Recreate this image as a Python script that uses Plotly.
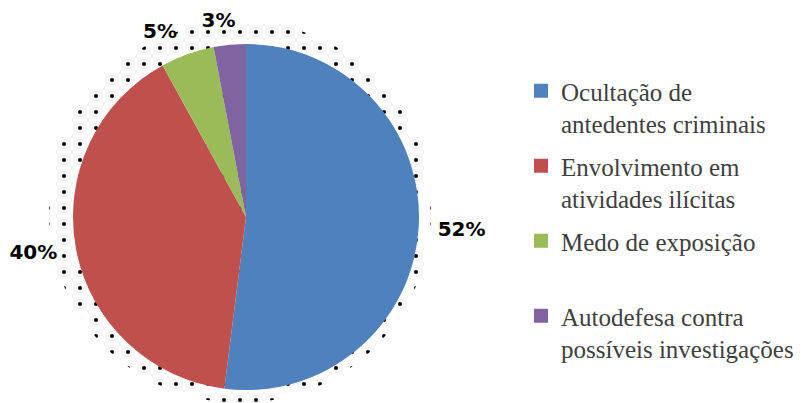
import plotly.graph_objects as go

categories = ["Ocultação de<br>antedentes criminais",
              "Envolvimento em<br>atividades ilícitas",
              "Medo de exposição<br> ",
              "Autodefesa contra<br>possíveis investigações"]
values = [52, 40, 5, 3]
colors = ["#4F81BD", "#C0504D", "#9BBB59", "#8064A2"]

# the page body adds an 8px margin, so the figure is 8px smaller than the window
W, H = 800, 395


def fx(px):
    return px / W


def fy(py):
    return 1 - py / H


fig = go.Figure()

# dotted "shadow" halo behind the pie
fig.add_trace(go.Pie(
    values=[1], labels=["halo"], sort=False,
    domain=dict(x=[fx(41), fx(423)], y=[0.0, fy(13)]),
    marker=dict(colors=["white"],
                pattern=dict(shape=".", fgcolor="black", bgcolor="white",
                             size=16, solidity=0.05),
                line=dict(width=0)),
    textinfo="none", hoverinfo="skip", showlegend=False,
))

label_tpl = '<span style="color:black"><b>%{percent:.0%}</b></span>'
label_font = dict(family="DejaVu Sans", size=20, color="white")

# invisible pies that only carry the percentage labels a bit further out
# (the 3% label sits on its own pie so it is not pushed above the 5% one)
for positions, x0 in ((["outside", "outside", "outside", "none"], 52),
                      (["none", "none", "none", "outside"], 65)):
    fig.add_trace(go.Pie(
        labels=categories, values=values, sort=False,
        direction="clockwise", rotation=0,
        domain=dict(x=[fx(x0), fx(x0 + 372)], y=[0.0, fy(23)]),
        marker=dict(colors=["rgba(0,0,0,0)"] * 4, line=dict(width=0)),
        textposition=positions,
        texttemplate=label_tpl,
        outsidetextfont=label_font,
        showlegend=False, hoverinfo="skip",
    ))

# visible pie
fig.add_trace(go.Pie(
    labels=categories, values=values, sort=False,
    direction="clockwise", rotation=0,
    domain=dict(x=[fx(65), fx(411)], y=[fy(382), fy(36)]),
    marker=dict(colors=colors, line=dict(width=0)),
    textinfo="none",
    showlegend=False, hoverinfo="label+percent",
))

# legend entries
for i, (cat, col) in enumerate(zip(categories, colors)):
    fig.add_trace(go.Scatter(
        x=[None], y=[None], mode="markers", name=cat,
        legendgroup=f"g{i}",
        marker=dict(symbol="square", size=14, color=col),
    ))

fig.update_layout(
    width=W, height=H,
    margin=dict(l=0, r=0, t=0, b=0, autoexpand=False),
    paper_bgcolor="white", plot_bgcolor="white",
    xaxis=dict(visible=False), yaxis=dict(visible=False),
    showlegend=True,
    legend=dict(
        x=fx(513), xanchor="left", y=fy(60), yanchor="top",
        font=dict(family="Liberation Serif", size=25, color="#404040"),
        valign="top", traceorder="grouped", tracegroupgap=7,
        bgcolor="rgba(0,0,0,0)",
    ),
)

fig.write_html("out.html")
